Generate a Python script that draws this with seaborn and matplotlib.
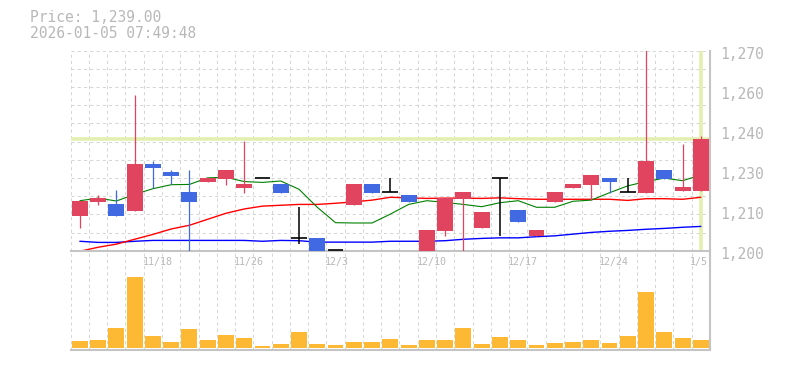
import numpy as np
import pandas as pd
import seaborn as sns
import matplotlib
matplotlib.use("Agg")
import matplotlib.pyplot as plt
from matplotlib.transforms import ScaledTranslation

# ---------------- data ----------------
dates = ["11/12", "11/13", "11/14", "11/17", "11/18", "11/19", "11/20", "11/21",
         "11/25", "11/26", "11/27", "11/28", "12/1", "12/2", "12/3", "12/4",
         "12/5", "12/8", "12/9", "12/10", "12/11", "12/12", "12/15", "12/16",
         "12/17", "12/18", "12/19", "12/22", "12/23", "12/24", "12/25", "12/26",
         "12/29", "12/30", "1/5"]
labeled_dates = ["11/18", "11/26", "12/3", "12/10", "12/17", "12/24", "1/5"]

opens = [1212.3, 1217.0, 1216.5, 1214.0, 1230.3, 1227.5, 1220.5, 1224.2, 1225.2, 1222.0,
         1225.4, 1223.3, 1204.3, 1204.4, 1200.2, 1216.1, 1223.3, 1220.4, 1219.5, 1200.0,
         1207.0, 1218.2, 1208.0, 1225.3, 1214.2, 1205.1, 1217.0, 1221.9, 1223.0, 1225.4,
         1220.4, 1220.3, 1228.2, 1221.0, 1221.0]
highs = [1217.4, 1219.4, 1221.2, 1254.5, 1231.5, 1228.2, 1228.2, 1225.6, 1228.2, 1238.4,
         1225.4, 1223.3, 1215.2, 1204.4, 1200.2, 1223.3, 1223.3, 1225.4, 1219.5, 1207.2,
         1218.4, 1220.5, 1213.5, 1225.3, 1214.2, 1207.2, 1220.5, 1223.3, 1226.5, 1225.4,
         1225.4, 1272.0, 1228.2, 1237.2, 1240.2]
lows = [1208.0, 1216.1, 1212.3, 1214.0, 1222.0, 1223.3, 1200.0, 1224.2, 1223.0, 1220.3,
        1225.4, 1220.3, 1202.2, 1200.0, 1200.2, 1216.1, 1220.3, 1220.4, 1217.0, 1200.0,
        1205.2, 1200.0, 1208.0, 1205.2, 1210.2, 1205.1, 1217.0, 1221.9, 1217.7, 1220.3,
        1220.4, 1220.3, 1225.2, 1221.0, 1221.0]
closes = [1217.4, 1218.4, 1212.3, 1230.3, 1229.0, 1226.3, 1217.0, 1225.6, 1228.2, 1223.3,
          1225.4, 1220.3, 1204.3, 1200.0, 1200.2, 1223.3, 1220.3, 1220.4, 1217.0, 1207.2,
          1218.4, 1220.5, 1213.5, 1225.3, 1210.2, 1207.2, 1220.5, 1223.3, 1226.5, 1224.2,
          1220.4, 1231.4, 1225.2, 1222.4, 1239.0]

ma_short = [1217.5, 1218.4, 1217.4, 1219.7, 1221.7, 1223.1, 1223.2, 1225.5, 1225.7, 1224.2,
            1223.9, 1224.4, 1221.5, 1215.2, 1209.8, 1209.7, 1209.7, 1212.8, 1216.2, 1217.5,
            1216.9, 1216.2, 1215.4, 1216.8, 1217.5, 1215.2, 1215.2, 1217.3, 1217.7, 1220.3,
            1222.7, 1224.2, 1225.4, 1224.5, 1226.5]
ma_mid = [1199.8, 1201.2, 1202.3, 1204.0, 1205.7, 1207.6, 1208.9, 1211.0, 1213.1, 1214.6,
          1215.6, 1215.9, 1216.2, 1216.2, 1216.6, 1217.1, 1217.7, 1218.7, 1218.5, 1218.3,
          1218.4, 1218.4, 1218.3, 1218.5, 1218.2, 1218.0, 1218.0, 1218.0, 1218.0, 1218.0,
          1217.6, 1218.2, 1218.2, 1218.0, 1218.7]
ma_long = [1203.3, 1202.9, 1202.9, 1203.3, 1203.6, 1203.6, 1203.6, 1203.6, 1203.6, 1203.6,
           1203.3, 1203.6, 1203.5, 1203.0, 1203.0, 1203.0, 1203.0, 1203.3, 1203.3, 1203.3,
           1203.5, 1204.0, 1204.3, 1204.5, 1204.5, 1204.9, 1205.2, 1205.8, 1206.4, 1206.8,
           1207.1, 1207.5, 1207.8, 1208.2, 1208.5]

volumes = [2100, 2400, 6000, 21300, 3600, 1800, 5700, 2400, 3900, 3000,
           600, 1200, 4800, 1200, 900, 1800, 1800, 2700, 900, 2400,
           2400, 6000, 1200, 3300, 2400, 900, 1500, 1800, 2400, 1500,
           3600, 16800, 4800, 3000, 2400]

price_now = 1239.0
price_ticks = ["1,200", "1,210", "1,230", "1,240", "1,260", "1,270"]
title_lines = ["Price: 1,239.00", "2026-01-05 07:49:48"]

# ---------------- styling ----------------
sns.set_theme(style="white")
plt.rcParams["font.family"] = ["DejaVu Sans Mono", "DejaVu Sans"]

RED = "#e0445e"
BLUE = "#4169e1"
GRID = "#d6d6d6"
TXT = "#b8b8b8"
SPINE = "#c4c4c4"
HILITE = "#e3efb0"
VOL = "#fdb834"

W, H = 785, 370
fig = plt.figure(figsize=(W / 100, H / 100), dpi=100)
fig.patch.set_facecolor("white")

left, right = 70.7, 710.0
p_top, p_bot = 50.7, 250.7
v_bot = 350.0
ax = fig.add_axes([left / W, 1 - p_bot / H, (right - left) / W, (p_bot - p_top) / H])
axv = fig.add_axes([left / W, 1 - v_bot / H, (right - left) / W, (v_bot - p_bot) / H])

n = len(dates)
idx = np.arange(n)
df = pd.DataFrame({"i": idx, "date": dates, "open": opens, "high": highs, "low": lows,
                   "close": closes, "ma5": ma_short, "ma25": ma_mid, "ma75": ma_long,
                   "vol": volumes})

dash = (0, (3, 3))
# grid
for g in np.linspace(1200, 1270, 12)[1:]:
    ax.axhline(g, color=GRID, lw=0.75, ls=dash, zorder=0)
for xg in np.arange(-0.5, n, 1.0):
    ax.axvline(xg, color=GRID, lw=0.75, ls=dash, zorder=0)
    axv.axvline(xg, color=GRID, lw=0.75, ls=dash, zorder=0)

# highlight of current price
ax.axhline(price_now, color=HILITE, lw=2.6, zorder=1)
ax.axvline(idx[-1], color=HILITE, lw=2.6, zorder=1)

# moving averages
sns.lineplot(data=df, x="i", y="ma75", ax=ax, color="#0000ff", lw=1.0, zorder=2)
sns.lineplot(data=df, x="i", y="ma25", ax=ax, color="#ff0000", lw=1.0, zorder=2)
sns.lineplot(data=df, x="i", y="ma5", ax=ax, color="#008000", lw=0.8, zorder=2)

# candles
bw = 0.87
for r in df.itertuples():
    o, c, h, l = r.open, r.close, r.high, r.low
    if c > o:
        col = RED
    elif c < o:
        col = BLUE
    else:
        col = "black"
    ax.vlines(r.i, l, h, color=col, lw=1.1 if col == "black" else 0.9, zorder=3)
    if col == "black":
        ax.hlines(o, r.i - bw / 2, r.i + bw / 2, color="black", lw=1.2, zorder=4)
    else:
        ax.bar(r.i, abs(c - o), bottom=min(o, c), width=bw, color=col, lw=0, zorder=4)

ax.set_xlim(-0.5, n - 0.5)
ax.set_ylim(1200, 1270)
ax.set_xlabel("")
ax.set_ylabel("")
ax.yaxis.tick_right()
ax.set_yticks(np.linspace(1200, 1270, 6))
ax.set_yticklabels(price_ticks)
ax.tick_params(axis="y", length=0, pad=7, labelsize=10.5, labelcolor=TXT)
shift = ScaledTranslation(0, -2 / 100, fig.dpi_scale_trans)
for lab in ax.get_yticklabels():
    lab.set_transform(lab.get_transform() + shift)
ax.set_xticks([])
for s in ["left", "top"]:
    ax.spines[s].set_visible(False)
for s in ["right", "bottom"]:
    ax.spines[s].set_visible(True)
    ax.spines[s].set_color(SPINE)
    ax.spines[s].set_linewidth(1.5)
ax.patch.set_visible(False)

# date labels
for d in labeled_dates:
    i = dates.index(d)
    ax.text(i - 0.58, 1270 - 70 * (262 - p_top) / (p_bot - p_top), d, ha="left",
            va="center", fontsize=7.2, color=TXT, clip_on=False)

# volume
sns.barplot(data=df, x="i", y="vol", ax=axv, color=VOL, saturation=1, width=bw,
            zorder=2, linewidth=0)
axv.set_xlim(-0.5, n - 0.5)
axv.set_ylim(-600, 29190)
axv.set_xticks([])
axv.set_yticks([])
axv.set_xlabel("")
axv.set_ylabel("")
for s in ["left", "top"]:
    axv.spines[s].set_visible(False)
for s in ["right", "bottom"]:
    axv.spines[s].set_visible(True)
    axv.spines[s].set_color(SPINE)
    axv.spines[s].set_linewidth(1.5)
axv.patch.set_visible(False)
ax.set_zorder(3)

# title
fig.text(30 / W, 1 - 17 / H, title_lines[0], ha="left", va="center", fontsize=10.5, color=TXT)
fig.text(30 / W, 1 - 33 / H, title_lines[1], ha="left", va="center", fontsize=10.5, color=TXT)

fig.savefig("out.png", dpi=100, facecolor="white")
